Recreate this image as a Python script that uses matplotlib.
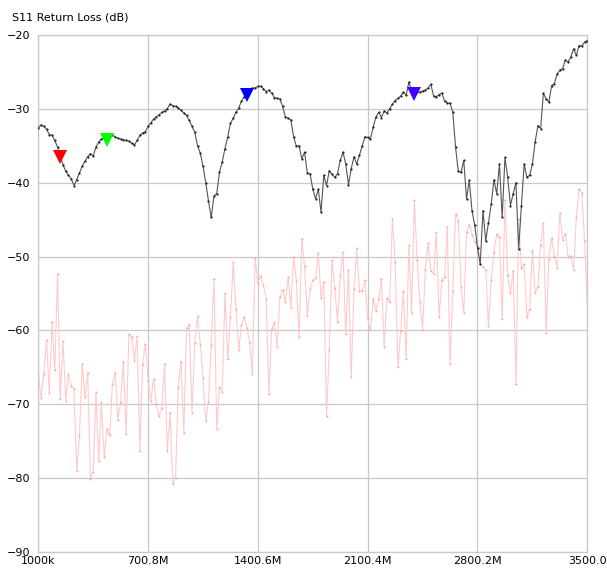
import matplotlib
matplotlib.use("Agg")
import matplotlib.pyplot as plt
from matplotlib.transforms import ScaledTranslation
import numpy as np

# sweep 1 MHz .. 3500 MHz, 201 points
f_start = 1.0
f_stop = 3500.0

s11 = [-32.6, -32.2, -32.4, -32.8, -33.5, -33.6, -34.3, -35.2, -36.3, -37.6,
       -38.5, -39.0, -39.5, -40.4, -39.6, -38.7, -37.8, -37.1, -36.5, -36.1,
       -36.4, -35.2, -34.5, -34.1, -34.0, -33.9, -33.7, -33.6, -33.8, -34.0,
       -34.1, -34.2, -34.3, -34.4, -34.7, -34.9, -34.3, -33.6, -33.3, -33.1,
       -32.4, -31.9, -31.4, -31.1, -30.8, -30.5, -30.3, -30.0, -29.4, -29.6,
       -29.7, -29.9, -30.2, -30.6, -30.9, -31.6, -32.4, -33.2, -35.0, -36.0,
       -37.8, -40.0, -42.5, -44.7, -41.8, -41.5, -38.6, -37.2, -35.4, -33.8,
       -32.0, -31.3, -30.5, -29.9, -29.0, -28.4, -27.9, -27.5, -27.2, -27.2,
       -27.0, -27.0, -27.3, -27.7, -27.5, -27.9, -28.5, -28.6, -28.7, -29.7,
       -31.1, -31.3, -31.5, -33.8, -35.1, -35.0, -36.8, -35.9, -38.7, -38.8,
       -40.9, -42.2, -40.9, -44.0, -39.0, -40.4, -38.4, -38.9, -39.3, -38.8,
       -37.0, -35.9, -37.5, -40.3, -38.1, -36.5, -37.5, -36.3, -35.0, -33.8,
       -33.9, -34.1, -32.5, -31.1, -30.5, -31.2, -30.3, -30.6, -30.0, -29.4,
       -28.9, -28.6, -28.3, -27.8, -28.2, -26.4, -27.6, -27.8, -27.7, -27.8,
       -27.6, -27.5, -27.2, -26.7, -28.3, -28.4, -28.1, -27.9, -29.0, -29.2,
       -29.3, -30.5, -35.2, -38.5, -38.6, -37.0, -42.2, -39.7, -43.8, -45.8,
       -48.8, -51.0, -43.8, -47.9, -45.4, -42.9, -39.6, -41.5, -37.5, -44.7,
       -36.6, -39.3, -43.1, -41.5, -40.0, -49.0, -43.1, -37.5, -39.3, -39.0,
       -37.5, -34.5, -32.3, -32.7, -27.9, -28.7, -29.1, -26.9, -26.6, -25.3,
       -24.8, -24.6, -23.4, -23.7, -23.0, -21.9, -22.8, -21.5, -21.5, -21.0,
       -20.8]

s11_ref = [-65.7, -69.1, -65.9, -61.3, -68.5, -58.8, -65.4, -52.4, -69.3, -61.4,
           -69.5, -65.9, -67.5, -67.9, -79.0, -74.2, -64.5, -69.0, -65.7, -80.1,
           -79.1, -68.3, -77.7, -69.7, -77.1, -73.3, -74.2, -67.3, -65.7, -72.1,
           -69.7, -64.2, -74.0, -60.5, -60.9, -64.1, -60.8, -76.3, -64.5, -61.8,
           -66.9, -69.5, -66.6, -70.0, -71.6, -70.5, -64.5, -76.3, -71.1, -80.8,
           -79.9, -67.6, -64.2, -73.9, -59.7, -59.2, -71.2, -61.7, -58.1, -61.8,
           -66.4, -72.3, -69.7, -61.9, -53.0, -73.3, -67.6, -68.3, -55.0, -63.9,
           -58.2, -50.8, -57.1, -62.7, -59.2, -58.2, -59.7, -61.6, -65.9, -50.2,
           -53.6, -52.7, -53.9, -55.7, -68.6, -59.8, -58.9, -62.2, -55.5, -54.5,
           -56.1, -52.8, -56.9, -50.0, -53.2, -60.9, -47.6, -51.3, -58.0,
           -54.4, -53.2, -52.9, -49.5, -55.6, -53.4, -71.6, -62.6, -50.5, -54.2,
           -58.9, -52.7, -49.4, -60.5, -51.8, -66.3, -54.4, -48.9, -54.7, -54.6,
           -53.2, -58.4, -60.0, -55.7, -57.3, -55.7, -53.0, -62.2, -55.6, -56.2,
           -44.9, -50.8, -65.0, -60.1, -54.7, -63.8, -48.4, -57.6, -42.4, -50.5,
           -56.2, -59.9, -51.8, -48.2, -51.9, -52.3, -46.7, -58.2, -53.2, -52.8,
           -46.0, -64.6, -54.6, -44.2, -45.2, -54.1, -57.6, -46.7, -45.7, -47.1,
           -48.0, -48.7, -51.0, -51.4, -51.8, -59.4, -53.2, -49.4, -47.0, -47.4,
           -58.5, -42.4, -52.5, -54.9, -51.9, -67.3, -44.9, -51.6, -51.0, -58.2,
           -57.1, -49.2, -54.9, -54.1, -48.4, -45.5, -60.4, -50.3, -47.5, -49.9,
           -51.5, -44.1, -47.7, -46.9, -50.0, -49.9, -51.8, -44.7, -40.8, -41.4,
           -47.9, -56.4]

marker_idx = [8, 25, 76, 137]
marker_colors = ["#ff0000", "#00ff00", "#0000ff", "#4000ff"]

x_labels = ["1000k", "700.8M", "1400.6M", "2100.4M", "2800.2M", "3500.0"]
y_ticks = [-90, -80, -70, -60, -50, -40, -30, -20]

freq = np.linspace(f_start, f_stop, len(s11))
freq_ref = np.linspace(f_start, f_stop, len(s11_ref))

plt.rcParams["font.family"] = ["DejaVu Sans"]
plt.rcParams["font.size"] = 8

fig = plt.figure(figsize=(6.07, 5.71), dpi=100)
ax = fig.add_axes([38.3 / 607, 1 - 552.3 / 571, 549.0 / 607, 517.6 / 571])

ax.plot(freq_ref, s11_ref, color="#ffcaca", lw=0.8, zorder=2)
ax.plot(freq_ref, s11_ref, ls="none", marker="o", ms=1.3, color="#ff9a9a", mew=0, zorder=2)
ax.plot(freq, s11, color="#555555", lw=0.8, zorder=3)
ax.plot(freq, s11, ls="none", marker="o", ms=1.6, color="#222222", mew=0, zorder=3)

# markers sit just below the trace point
shift = ScaledTranslation(0, -1.5 / 72, fig.dpi_scale_trans)
for i, c in zip(marker_idx, marker_colors):
    ax.plot(freq[i], s11[i], marker="v", ms=9.5, color=c, mew=0, zorder=4,
            transform=ax.transData + shift, clip_on=False)

ax.set_xlim(f_start, f_stop)
ax.set_ylim(-90, -20)
ax.set_xticks(np.linspace(f_start, f_stop, len(x_labels)))
ax.set_xticklabels(x_labels)
ax.set_yticks(y_ticks)
ax.tick_params(length=0, colors="black", labelsize=8)
ax.tick_params(axis="y", pad=6)
ax.tick_params(axis="x", pad=3)
ax.grid(True, color="#c8c8c8", lw=0.9)
ax.set_axisbelow(True)
for s in ax.spines.values():
    s.set_color("#c8c8c8")
    s.set_linewidth(0.9)

fig.text(12 / 607, 1 - 17 / 571, "S11 Return Loss (dB)", fontsize=8, va="center", ha="left")

fig.savefig("out.png", dpi=100)
